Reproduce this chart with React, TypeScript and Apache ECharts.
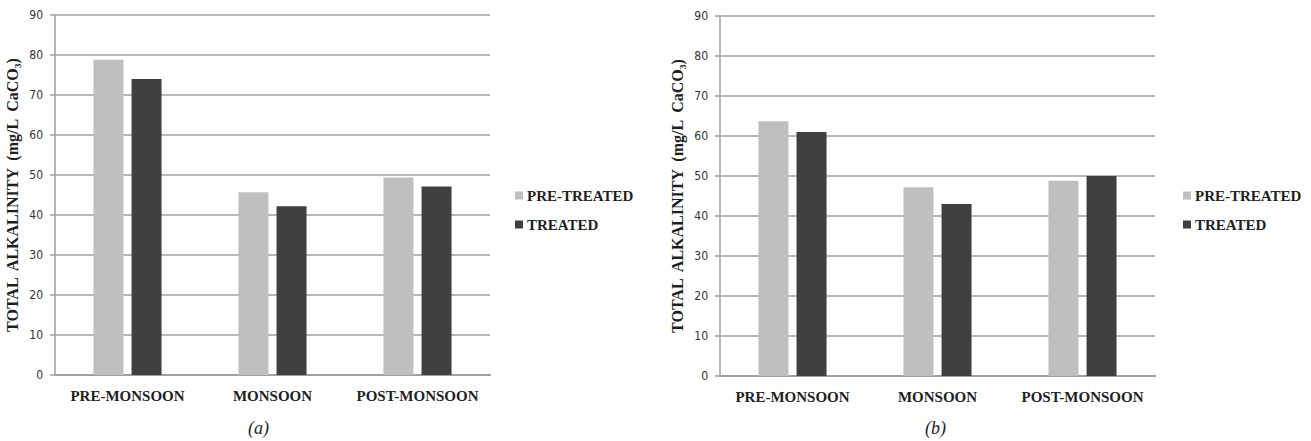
import React, { useEffect, useRef } from "react";
import * as echarts from "echarts";

// Seasons on the category axis
const seasons = ["PRE-MONSOON", "MONSOON", "POST-MONSOON"];

// Panel (a): total alkalinity, mg/L CaCO3
const preTreatedA = [78.8, 45.7, 49.4];
const treatedA = [74.0, 42.2, 47.1];

// Panel (b): total alkalinity, mg/L CaCO3
const preTreatedB = [63.7, 47.2, 48.8];
const treatedB = [61.0, 43.0, 50.0];

const seriesNames = ["PRE-TREATED", "TREATED"];
const panelLabels = ["(a)", "(b)"];

const LIGHT = "#bfbfbf";
const DARK = "#404040";
const GRID_GRAY = "#a0a0a0";
const SERIF = "'Liberation Serif', 'Times New Roman', serif";
const NARROW = "'Liberation Sans Narrow', 'DejaVu Sans Condensed', 'Liberation Sans', sans-serif";

export default function App() {
  const ref = useRef<HTMLDivElement>(null);

  useEffect(() => {
    document.body.style.margin = "0";
    if (!ref.current) return;
    const chart = echarts.init(ref.current, undefined, { renderer: "svg" });

    const makeXAxis = (gridIndex: number) => ({
      type: "category" as const,
      gridIndex,
      data: seasons,
      axisLine: { show: true, lineStyle: { color: GRID_GRAY, width: 2 } },
      axisTick: { show: false },
      axisLabel: {
        interval: 0,
        hideOverlap: false,
        margin: 13,
        fontFamily: SERIF,
        fontWeight: "bold" as const,
        fontSize: 15,
        color: "#1e1e1e",
      },
    });

    const makeYAxis = (gridIndex: number) => ({
      type: "value" as const,
      gridIndex,
      min: 0,
      max: 90,
      interval: 10,
      name: "TOTAL  ALKALINITY  (mg/L  CaCO₃)",
      nameLocation: "middle" as const,
      nameRotate: 90,
      nameGap: 35,
      nameTextStyle: {
        fontFamily: SERIF,
        fontWeight: "bold" as const,
        fontSize: 16,
        color: "#1e1e1e",
      },
      axisLine: { show: true, lineStyle: { color: GRID_GRAY, width: 1.5 } },
      axisTick: { show: true, length: 5, lineStyle: { color: GRID_GRAY, width: 1.5 } },
      axisLabel: {
        margin: 12,
        fontFamily: NARROW,
        fontSize: 12,
        color: "#333333",
      },
      splitLine: { show: true, lineStyle: { color: GRID_GRAY, width: 1.5 } },
    });

    const makeBar = (name: string, data: number[], idx: number, color: string) => ({
      type: "bar" as const,
      name,
      data,
      xAxisIndex: idx,
      yAxisIndex: idx,
      barWidth: 30,
      barGap: "27%",
      itemStyle: { color },
    });

    const makeLegend = (left: number) => ({
      orient: "vertical" as const,
      left,
      top: 183,
      itemWidth: 8,
      itemHeight: 8,
      itemGap: 14,
      icon: "rect",
      data: seriesNames,
      selectedMode: false,
      textStyle: {
        fontFamily: SERIF,
        fontWeight: "bold" as const,
        fontSize: 15,
        color: "#1e1e1e",
        padding: [0, 0, 0, -1],
      },
    });

    chart.setOption({
      animation: false,
      backgroundColor: "#ffffff",
      grid: [
        { left: 55, top: 15, width: 435, height: 360 },
        { left: 720, top: 16, width: 435, height: 360 },
      ],
      xAxis: [makeXAxis(0), makeXAxis(1)],
      yAxis: [makeYAxis(0), makeYAxis(1)],
      legend: [makeLegend(510), makeLegend(1178)],
      series: [
        makeBar(seriesNames[0], preTreatedA, 0, LIGHT),
        makeBar(seriesNames[1], treatedA, 0, DARK),
        makeBar(seriesNames[0], preTreatedB, 1, LIGHT),
        makeBar(seriesNames[1], treatedB, 1, DARK),
      ],
      graphic: [
        {
          type: "text",
          left: 248,
          top: 419,
          style: {
            text: panelLabels[0],
            font: `italic 18px ${SERIF}`,
            fill: "#1e1e1e",
          },
        },
        {
          type: "text",
          left: 925,
          top: 419,
          style: {
            text: panelLabels[1],
            font: `italic 18px ${SERIF}`,
            fill: "#1e1e1e",
          },
        },
      ],
    });

    return () => chart.dispose();
  }, []);

  return <div ref={ref} style={{ width: 1311, height: 441 }} />;
}
